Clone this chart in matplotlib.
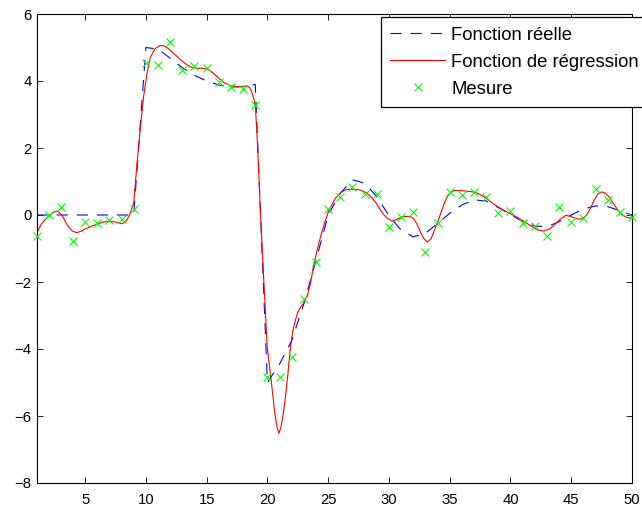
import matplotlib
matplotlib.use("Agg")
import matplotlib.pyplot as plt

plt.rcParams['font.family'] = ['Liberation Sans', 'DejaVu Sans']
plt.rcParams['lines.scale_dashes'] = False

# measurements (green crosses), one per integer x
meas_x = list(range(1, 51))
meas_y = [-0.62, 0.0, 0.25, -0.78, -0.22, -0.25, -0.15, -0.13, 0.17, 4.53,
          4.48, 5.17, 4.33, 4.45, 4.40, 3.98, 3.83, 3.75, 3.28, -4.83,
          -4.83, -4.25, -2.52, -1.41, 0.18, 0.55, 0.83, 0.62, 0.62, -0.35,
          -0.07, 0.08, -1.1, -0.23, 0.68, 0.60, 0.70, 0.53, 0.05, 0.13,
          -0.25, -0.33, -0.63, 0.25, -0.2, -0.1, 0.78, 0.45, 0.08, -0.05]

# true function, sampled at integer x
true_x = list(range(1, 51))
true_y = [0, 0, 0, 0, 0, 0, 0, 0, 0, 5.0,
          4.95, 4.68, 4.4, 4.17, 4.0, 3.88, 3.82, 3.83, 3.9, -5.0,
          -4.45, -3.75, -2.65, -1.35, 0.0, 0.65, 1.05, 0.95, 0.55, -0.02,
          -0.45, -0.65, -0.55, -0.25, 0.05, 0.3, 0.45, 0.42, 0.22, 0.02,
          -0.2, -0.33, -0.35, -0.2, 0.0, 0.18, 0.27, 0.25, 0.13, 0.0]

# regression curve
reg_x = [1.0, 1.4, 2.0, 2.4, 2.7, 3.1, 3.5, 3.9, 4.3, 4.7, 5.0, 5.5, 6.0, 6.5, 7.0,
         7.5, 8.0, 8.3, 8.6, 9.0, 9.26, 9.53, 9.8, 10.08, 10.36, 10.77, 11.18, 11.5,
         11.8, 12.28, 12.8, 13.38, 13.8, 14.2, 14.6, 15.0, 15.4, 15.86, 16.4, 16.95,
         17.6, 18.0, 18.33, 18.55, 18.74, 18.9, 19.02, 19.2, 19.43, 19.7, 19.98,
         20.31, 20.6, 20.8, 20.94, 21.1, 21.3, 21.49, 21.7, 21.9, 22.1, 22.31, 22.5,
         22.72, 23.0, 23.3, 23.55, 23.8, 24.1, 24.37, 24.7, 25.06, 25.6, 26.16, 26.5,
         26.98, 27.4, 27.8, 28.2, 28.64, 29.0, 29.3, 29.6, 29.87, 30.28, 30.6, 30.9,
         31.2, 31.52, 31.8, 32.06, 32.35, 32.6, 32.9, 33.17, 33.45, 33.7, 34.0, 34.26,
         34.55, 34.81, 35.1, 35.36, 35.9, 36.46, 36.9, 37.29, 37.7, 38.11, 38.5,
         38.94, 39.35, 39.76, 40.2, 40.72, 41.13, 41.7, 42.23, 42.78, 43.2, 43.6,
         44.1, 44.57, 44.9, 45.25, 45.55, 45.8, 46.1, 46.36, 46.6, 46.9, 47.2, 47.51,
         47.8, 48.14, 48.5, 48.83, 49.2, 49.52, 49.8, 50.0]
reg_y = [-0.55, -0.27, -0.03, 0.08, 0.12, 0.0, -0.28, -0.47, -0.53, -0.48, -0.42,
         -0.34, -0.27, -0.21, -0.19, -0.21, -0.26, -0.22, -0.05, 0.35, 1.5, 2.54, 3.5,
         4.2, 4.7, 4.97, 5.06, 5.05, 4.98, 4.83, 4.65, 4.48, 4.4, 4.38, 4.38, 4.36,
         4.28, 4.13, 3.96, 3.86, 3.83, 3.84, 3.85, 3.8, 3.65, 3.45, 3.2, 2.0, 0.05,
         -1.94, -3.93, -4.93, -5.9, -6.35, -6.52, -6.35, -5.95, -5.42, -4.7, -3.93,
         -3.45, -3.13, -2.9, -2.76, -2.62, -2.38, -2.04, -1.5, -1.04, -0.65, -0.25,
         0.15, 0.5, 0.7, 0.76, 0.77, 0.76, 0.73, 0.65, 0.5, 0.33, 0.15, 0.0, -0.1,
         -0.18, -0.14, -0.09, -0.05, -0.04, -0.05, -0.12, -0.3, -0.52, -0.72, -0.8,
         -0.72, -0.5, -0.22, 0.05, 0.35, 0.55, 0.68, 0.73, 0.73, 0.71, 0.69, 0.65,
         0.57, 0.47, 0.36, 0.25, 0.16, 0.08, 0.0, -0.1, -0.2, -0.33, -0.45, -0.48,
         -0.42, -0.3, -0.12, -0.01, -0.04, -0.08, -0.12, -0.12, -0.06, 0.05, 0.22,
         0.45, 0.63, 0.69, 0.65, 0.53, 0.33, 0.15, 0.0, -0.07, -0.09, -0.08]

labels = ["Fonction réelle", "Fonction de régression", "Mesure"]

fig = plt.figure(figsize=(6.42, 5.08), dpi=100)
ax = fig.add_axes([36.5 / 642, 25 / 508, 595.5 / 642, 469 / 508])

ax.plot(true_x, true_y, color=(0, 0, 1), lw=0.8, dashes=(8, 6.5), label=labels[0])
ax.plot(reg_x, reg_y, color=(1, 0, 0), lw=0.8, label=labels[1])
ax.plot(meas_x, meas_y, 'x', color=(0, 1, 0), ms=6, mew=0.8, label=labels[2],
        clip_on=False, zorder=3)

ax.set_xlim(1, 50)
ax.set_ylim(-8, 6)
ax.set_xticks(range(5, 51, 5))
ax.set_yticks(range(-8, 7, 2))
ax.tick_params(direction='in', top=True, right=True, length=4.5, width=0.6,
               labelsize=10.7, colors='black')
ax.tick_params(axis='x', pad=7.5)
ax.tick_params(axis='y', pad=3.5)
for s in ax.spines.values():
    s.set_linewidth(0.8)

# legend sits partly outside the figure, as in the original
leg = ax.legend(loc='upper left', bbox_to_anchor=(381 / 642, 1 - 17.3 / 508),
                bbox_transform=fig.transFigure, borderaxespad=0, fontsize=13.3,
                fancybox=False, framealpha=1, edgecolor='black',
                handlelength=2.97, handletextpad=0.32, borderpad=0.5,
                labelspacing=0.55)
leg.get_frame().set_linewidth(0.9)
leg.set_zorder(5)

fig.savefig("out.png", dpi=100)
